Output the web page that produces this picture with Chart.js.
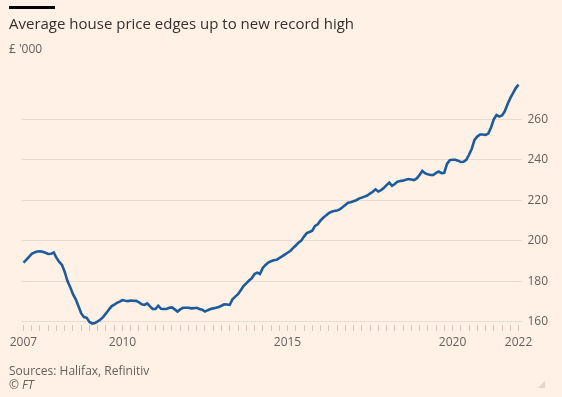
<!DOCTYPE html>
<html>
<head>
<meta charset="utf-8">
<script src="https://cdn.jsdelivr.net/npm/chart.js@4.4.1/dist/chart.umd.min.js"></script>
<style>
  html, body { margin: 0; padding: 0; background: #fff1e5; }
  body { width: 562px; height: 397px; position: relative; overflow: hidden; font-family: 'Open Sans', sans-serif; }
  #wrap { position: absolute; left: 0; top: 0; width: 562px; height: 397px; }
  .txt { position: absolute; left: 9px; white-space: nowrap; }
  #bar { position: absolute; left: 9px; top: 6px; width: 46px; height: 3px; background: #000; }
  #title { top: 16px; font-size: 15px; line-height: 15px; color: #33302e; }
  #unit { top: 42.5px; font-size: 12px; line-height: 12px; color: #66605c; }
  #source { top: 365px; font-size: 12px; line-height: 12px; color: #66605c; }
  #ft { top: 379px; font-size: 12px; line-height: 12px; color: #66605c; font-style: italic; }
  #grip { position: absolute; left: 538px; top: 381px; width: 0; height: 0;
          border-left: 7px solid transparent; border-bottom: 7px solid #e0d6ce; }
</style>
</head>
<body>
<div id="wrap"><canvas id="chart" width="562" height="397"></canvas></div>
<div id="bar"></div>
<div class="txt" id="title">Average house price edges up to new record high</div>
<div class="txt" id="unit">£ '000</div>
<div class="txt" id="source">Sources: Halifax, Refinitiv</div>
<div class="txt" id="ft">© FT</div>
<div id="grip"></div>
<script>
// monthly average house price, £'000, Jan 2007 .. Jan 2022
const startYear = 2007;
const prices = [
  // 2007
  189.1, 190.5, 192.0, 193.5, 194.2, 194.6, 194.7, 194.5, 194.0, 193.4, 193.5, 194.2,
  // 2008
  191.5, 189.5, 188.0, 184.5, 180.0, 177.0, 173.5, 171.0, 167.5, 164.0, 162.2, 161.8,
  // 2009
  159.8, 159.0, 159.3, 160.0, 161.0, 162.3, 164.0, 165.8, 167.5, 168.3, 169.2, 169.8,
  // 2010
  170.6, 170.3, 170.1, 170.4, 170.3, 170.2, 169.5, 168.5, 168.2, 169.0, 167.5, 166.2,
  // 2011
  166.2, 167.8, 166.3, 166.2, 166.2, 166.8, 167.0, 166.0, 164.9, 166.0, 166.8, 166.8,
  // 2012
  166.8, 166.5, 166.6, 166.8, 166.2, 165.8, 164.9, 165.6, 166.2, 166.5, 166.8, 167.2,
  // 2013
  167.8, 168.5, 168.4, 168.2, 171.0, 172.3, 173.5, 175.5, 177.5, 178.9, 180.3, 181.4,
  // 2014
  183.5, 184.2, 183.5, 186.5, 188.0, 189.2, 189.8, 190.3, 190.5, 191.4, 192.2, 193.1,
  // 2015
  194.0, 194.9, 196.3, 197.6, 199.0, 200.0, 202.0, 203.7, 204.3, 204.9, 207.3, 208.1,
  // 2016
  210.0, 211.3, 212.5, 213.6, 214.3, 214.7, 214.9, 215.5, 216.5, 217.6, 218.8, 219.0,
  // 2017
  219.5, 220.0, 220.8, 221.3, 221.8, 222.3, 223.3, 224.2, 225.4, 224.3, 225.0, 226.0,
  // 2018
  227.5, 228.7, 227.1, 228.0, 229.2, 229.5, 229.7, 230.1, 230.5, 230.3, 230.0, 230.8,
  // 2019
  232.5, 234.5, 233.4, 232.8, 232.5, 232.5, 233.5, 234.2, 233.4, 233.6, 238.0, 239.8,
  // 2020
  240.0, 240.0, 239.6, 238.9, 239.0, 240.0, 242.5, 245.5, 249.9, 251.5, 252.5, 252.5,
  // 2021
  252.3, 253.0, 256.0, 260.0, 262.2, 261.4, 262.0, 264.0, 267.5, 270.5, 273.0, 275.5,
  // 2022
  277.2
];
const yearLabels = [2007, 2010, 2015, 2020, 2022];
const yTicks = [160, 180, 200, 220, 240, 260];

const points = prices.map((v, i) => ({ x: startYear + i / 12, y: v }));

const quarterTicks = [];
for (let q = 2007; q <= 2022; q += 0.25) quarterTicks.push({ value: q });

const tickFont = { family: "'Open Sans', sans-serif", size: 12 };

new Chart(document.getElementById('chart'), {
  type: 'line',
  data: {
    datasets: [{
      data: points,
      borderColor: '#1d5b9b',
      borderWidth: 2.6,
      pointRadius: 0,
      tension: 0,
      fill: false,
      clip: false
    }]
  },
  options: {
    responsive: false,
    animation: false,
    layout: { padding: { top: 81, left: 21.5, right: 0, bottom: 0 } },
    plugins: { legend: { display: false }, tooltip: { enabled: false } },
    scales: {
      x: {
        type: 'linear',
        min: 2006.94,
        max: 2022.09,
        afterBuildTicks: (s) => { s.ticks = quarterTicks.map(t => ({ value: t.value })); },
        afterFit: (s) => { s.height = 72; },
        border: { display: false },
        grid: { drawOnChartArea: false, drawTicks: true, tickLength: 6, color: '#d3c7bc' },
        ticks: {
          autoSkip: false,
          maxRotation: 0,
          padding: 4,
          color: '#66605c',
          font: tickFont,
          callback: (v) => yearLabels.includes(v) ? String(v) : ''
        }
      },
      y: {
        position: 'right',
        min: 158.27,
        max: 279,
        afterBuildTicks: (s) => { s.ticks = yTicks.map(v => ({ value: v })); },
        afterFit: (s) => { s.width = 40.5; },
        border: { display: false },
        grid: { drawTicks: false, color: '#eadcd0' },
        ticks: { padding: 6, color: '#66605c', font: tickFont }
      }
    }
  }
});
</script>
</body>
</html>
